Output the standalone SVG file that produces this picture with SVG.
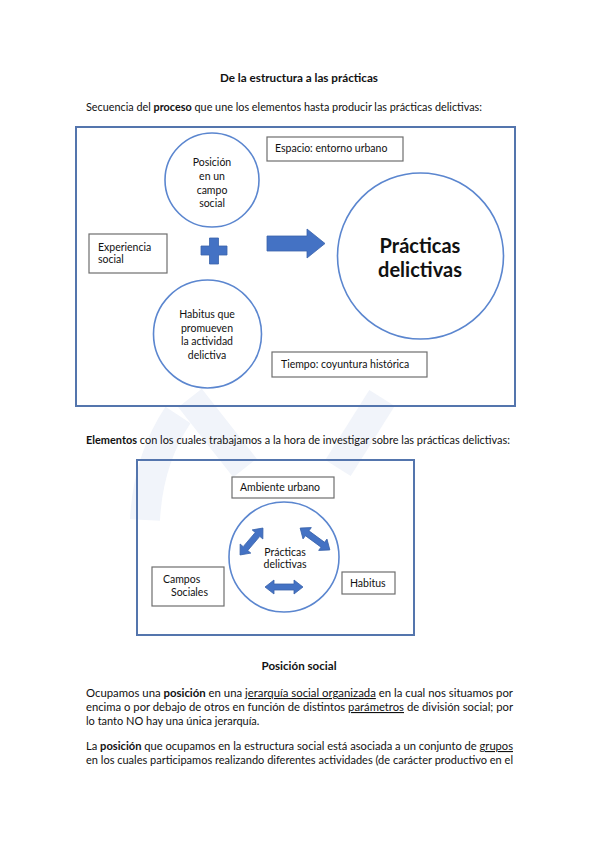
<svg xmlns="http://www.w3.org/2000/svg" width="599" height="848" viewBox="0 0 599 848">
<style>
text{font-family:Lato,"Open Sans","Liberation Sans",sans-serif;fill:#111;}
.body{font-size:11px;}
.b{font-weight:bold;}
.lbl{font-size:10.5px;}
.ctr{text-anchor:middle;}
.frame{fill:none;stroke:#5475ad;stroke-width:2;}
.box{fill:#fff;stroke:#6e6e6e;stroke-width:1.2;}
.circ{fill:#fff;stroke:#5b86cf;stroke-width:1.6;}
.shape{fill:#4472c4;stroke:#3a63ab;stroke-width:0.8;}
.wm{fill:none;stroke:#f1f4fa;stroke-width:30;stroke-linecap:butt;}
.u{text-decoration:underline;}
</style>
<defs>
<polygon id="dbl" points="-19,0 -10,-7 -10,-3 10,-3 10,-7 19,0 10,7 10,3 -10,3 -10,7"/>
</defs>
<rect width="599" height="848" fill="#fff"/>
<g id="watermark">
<path class="wm" d="M190,398 L245,468"/>
<path class="wm" d="M382,398 L338,468"/>
<path class="wm" d="M178,415 Q148,460 145,520"/>
</g>

<text class="body b ctr" x="299" y="82" textLength="158" lengthAdjust="spacingAndGlyphs">De la estructura a las prácticas</text>
<text class="body" x="86" y="111" textLength="396" lengthAdjust="spacingAndGlyphs">Secuencia del <tspan class="b">proceso</tspan> que une los elementos hasta producir las prácticas delictivas:</text>

<g id="frame1"><rect class="frame" x="76" y="127" width="439" height="279"/></g>

<g id="posicion">
<circle class="circ" cx="212" cy="180" r="47"/>
<text class="lbl ctr" x="212" y="166">Posición</text>
<text class="lbl ctr" x="212" y="180">en un</text>
<text class="lbl ctr" x="212" y="194">campo</text>
<text class="lbl ctr" x="212" y="207">social</text>
</g>

<g id="espacio">
<rect class="box" x="267" y="137" width="136" height="24"/>
<text class="lbl" x="275" y="152">Espacio: entorno urbano</text>
</g>

<g id="experiencia">
<rect class="box" x="89" y="234" width="78" height="39"/>
<text class="lbl" x="98" y="251">Experiencia</text>
<text class="lbl" x="98" y="263">social</text>
</g>

<g id="practicas">
<circle class="circ" cx="420.5" cy="256" r="83"/>
<text class="b ctr" style="font-size:20px" x="420" y="253">Prácticas</text>
<text class="b ctr" style="font-size:20px" x="420" y="277">delictivas</text>
</g>

<g id="habitus1">
<circle class="circ" cx="207.5" cy="334" r="54"/>
<text class="lbl ctr" x="207" y="318">Habitus que</text>
<text class="lbl ctr" x="207" y="332">promueven</text>
<text class="lbl ctr" x="207" y="345">la actividad</text>
<text class="lbl ctr" x="207" y="359">delictiva</text>
</g>

<g id="tiempo">
<rect class="box" x="272" y="352" width="155" height="25"/>
<text class="lbl" x="281" y="368">Tiempo: coyuntura histórica</text>
</g>

<text class="body" x="86" y="444" textLength="424" lengthAdjust="spacingAndGlyphs"><tspan class="b">Elementos</tspan> con los cuales trabajamos a la hora de investigar sobre las prácticas delictivas:</text>

<g id="frame2"><rect class="frame" x="137" y="460" width="277" height="175"/></g>

<g id="ambiente">
<rect class="box" x="232" y="477" width="102" height="21"/>
<text class="lbl" x="240" y="491">Ambiente urbano</text>
</g>

<g id="centro">
<circle class="circ" cx="284" cy="557" r="55"/>
<text class="lbl ctr" x="285" y="556">Prácticas</text>
<text class="lbl ctr" x="285" y="568">delictivas</text>
</g>

<g id="campos">
<rect class="box" x="152" y="567" width="72" height="39"/>
<text class="lbl" x="163" y="583">Campos</text>
<text class="lbl" x="171" y="596">Sociales</text>
</g>

<g id="habitus2">
<rect class="box" x="342" y="572" width="53" height="22"/>
<text class="lbl" x="350" y="587">Habitus</text>
</g>

<g id="connectors">
<path id="plus" class="shape" d="M209.5,238 h9 v8 h8.5 v9 h-8.5 v9 h-9 v-9 h-8.5 v-9 h8.5 z"/>
<polygon id="bigarrow" class="shape" points="267,236 307,236 307,229 325,243.5 307,258 307,251 267,251"/>
<use href="#dbl" class="shape" transform="translate(251.5,541.5) rotate(-49.6) scale(0.93,1)"/>
<use href="#dbl" class="shape" transform="translate(315,539) rotate(36.3) scale(0.97,1)"/>
<use href="#dbl" class="shape" transform="translate(284,587)"/>
</g>

<text class="body b ctr" x="299" y="670" textLength="75" lengthAdjust="spacingAndGlyphs">Posición social</text>
<text class="body" x="86" y="697" textLength="427" lengthAdjust="spacingAndGlyphs">Ocupamos una <tspan class="b">posición</tspan> en una <tspan class="u">jerarquía social organizada</tspan> en la cual nos situamos por</text>
<text class="body" x="86" y="711" textLength="427" lengthAdjust="spacingAndGlyphs">encima o por debajo de otros en función de distintos <tspan class="u">parámetros</tspan> de división social; por</text>
<text class="body" x="86" y="725">lo tanto NO hay una única jerarquía.</text>
<text class="body" x="86" y="750" textLength="427" lengthAdjust="spacingAndGlyphs">La <tspan class="b">posición</tspan> que ocupamos en la estructura social está asociada a un conjunto de <tspan class="u">grupos</tspan></text>
<text class="body" x="86" y="764" textLength="427" lengthAdjust="spacingAndGlyphs">en los cuales participamos realizando diferentes actividades (de carácter productivo en el</text>
</svg>
